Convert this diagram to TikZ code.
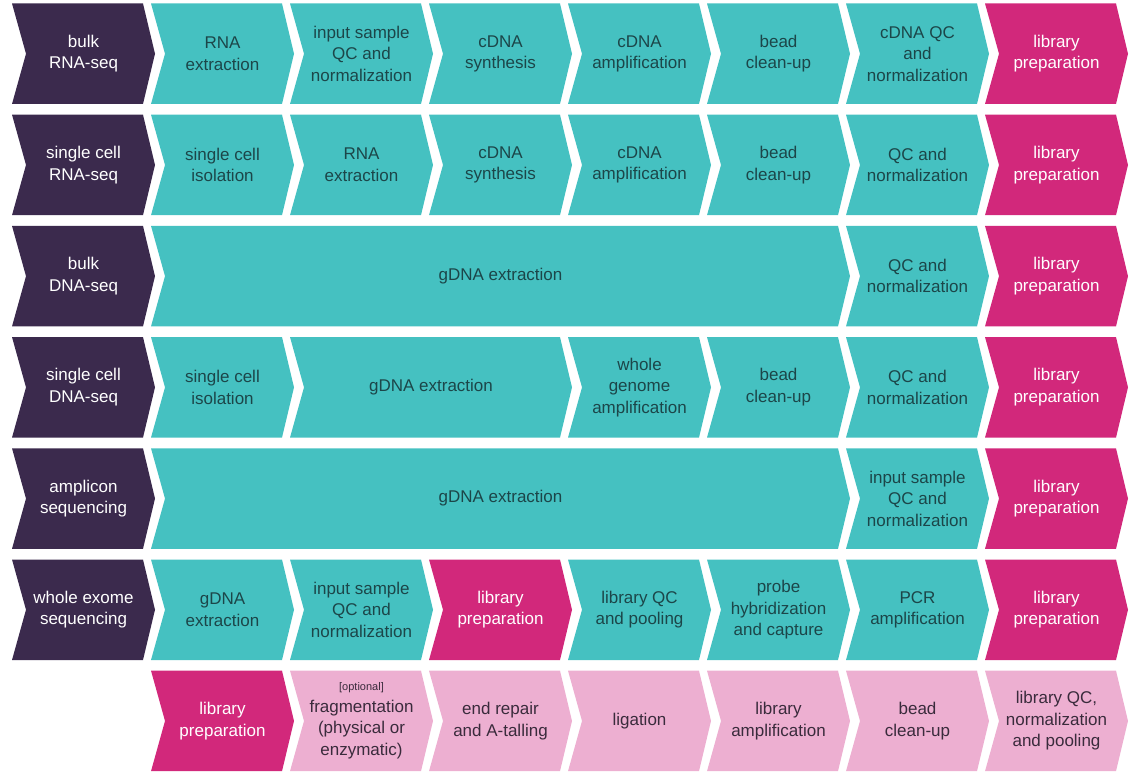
\documentclass[tikz,border=0pt]{standalone}
\usepackage{fontspec}
\setmainfont{Liberation Sans}
\definecolor{cdark}{HTML}{3B2A4D}
\definecolor{cteal}{HTML}{45C1C1}
\definecolor{cmag}{HTML}{D2287B}
\definecolor{cpink}{HTML}{EDAFD1}
\definecolor{ttealtxt}{HTML}{1C4649}
\definecolor{tpinktxt}{HTML}{3A2B3C}
\tikzset{
  base text/.style={align=center,font=\fontsize{17}{21.5}\selectfont,inner sep=0pt},
  darkfill/.style={fill=cdark},
  tealfill/.style={fill=cteal},
  magfill/.style={fill=cmag},
  pinkfill/.style={fill=cpink},
  darkfill text/.style={base text,text=white},
  tealfill text/.style={base text,text=ttealtxt},
  magfill text/.style={base text,text=white},
  pinkfill text/.style={base text,text=tpinktxt},
}
\newcommand\mychev[6]{%
  \pgfmathsetmacro\xa{12+139*#2}%
  \pgfmathsetmacro\xb{12+139*#3+131}%
  \pgfmathsetmacro\yt{3.5+111.2*#4}%
  \pgfmathsetmacro\yb{\yt+100.5}%
  \pgfmathsetmacro\ym{\yt+50.25}%
  \fill[#5] (\xa,\yt) -- (\xb,\yt) -- (\xb+12,\ym) -- (\xb,\yb) -- (\xa,\yb) -- (\xa+14,\ym) -- cycle;
  \node[#5 text] (#1) at ({(\xa+\xb)/2+6},\ym) {#6};
}
\newcommand\opt{{\fontsize{11}{13}\selectfont [optional]}}
\begin{document}
\begin{tikzpicture}[x=1pt,y=-1pt]
\useasboundingbox (0,0) rectangle (1138,778);
% row 0
\mychev{a0}{0}{0}{0}{darkfill}{bulk\\RNA-seq}
\mychev{a1}{1}{1}{0}{tealfill}{RNA\\extraction}
\mychev{a2}{2}{2}{0}{tealfill}{input sample\\QC and\\normalization}
\mychev{a3}{3}{3}{0}{tealfill}{cDNA\\synthesis}
\mychev{a4}{4}{4}{0}{tealfill}{cDNA\\amplification}
\mychev{a5}{5}{5}{0}{tealfill}{bead\\clean-up}
\mychev{a6}{6}{6}{0}{tealfill}{cDNA QC\\and\\normalization}
\mychev{a7}{7}{7}{0}{magfill}{library\\preparation}
% row 1
\mychev{b0}{0}{0}{1}{darkfill}{single cell\\RNA-seq}
\mychev{b1}{1}{1}{1}{tealfill}{single cell\\isolation}
\mychev{b2}{2}{2}{1}{tealfill}{RNA\\extraction}
\mychev{b3}{3}{3}{1}{tealfill}{cDNA\\synthesis}
\mychev{b4}{4}{4}{1}{tealfill}{cDNA\\amplification}
\mychev{b5}{5}{5}{1}{tealfill}{bead\\clean-up}
\mychev{b6}{6}{6}{1}{tealfill}{QC and\\normalization}
\mychev{b7}{7}{7}{1}{magfill}{library\\preparation}
% row 2
\mychev{c0}{0}{0}{2}{darkfill}{bulk\\DNA-seq}
\mychev{c1}{1}{5}{2}{tealfill}{gDNA extraction}
\mychev{c6}{6}{6}{2}{tealfill}{QC and\\normalization}
\mychev{c7}{7}{7}{2}{magfill}{library\\preparation}
% row 3
\mychev{d0}{0}{0}{3}{darkfill}{single cell\\DNA-seq}
\mychev{d1}{1}{1}{3}{tealfill}{single cell\\isolation}
\mychev{d2}{2}{3}{3}{tealfill}{gDNA extraction}
\mychev{d4}{4}{4}{3}{tealfill}{whole\\genome\\amplification}
\mychev{d5}{5}{5}{3}{tealfill}{bead\\clean-up}
\mychev{d6}{6}{6}{3}{tealfill}{QC and\\normalization}
\mychev{d7}{7}{7}{3}{magfill}{library\\preparation}
% row 4
\mychev{e0}{0}{0}{4}{darkfill}{amplicon\\sequencing}
\mychev{e1}{1}{5}{4}{tealfill}{gDNA extraction}
\mychev{e6}{6}{6}{4}{tealfill}{input sample\\QC and\\normalization}
\mychev{e7}{7}{7}{4}{magfill}{library\\preparation}
% row 5
\mychev{f0}{0}{0}{5}{darkfill}{whole exome\\sequencing}
\mychev{f1}{1}{1}{5}{tealfill}{gDNA\\extraction}
\mychev{f2}{2}{2}{5}{tealfill}{input sample\\QC and\\normalization}
\mychev{f3}{3}{3}{5}{magfill}{library\\preparation}
\mychev{f4}{4}{4}{5}{tealfill}{library QC\\and pooling}
\mychev{f5}{5}{5}{5}{tealfill}{probe\\hybridization\\and capture}
\mychev{f6}{6}{6}{5}{tealfill}{PCR\\amplification}
\mychev{f7}{7}{7}{5}{magfill}{library\\preparation}
% row 6
\mychev{g1}{1}{1}{6}{magfill}{library\\preparation}
\mychev{g2}{2}{2}{6}{pinkfill}{\opt\\fragmentation\\(physical or\\enzymatic)}
\mychev{g3}{3}{3}{6}{pinkfill}{end repair\\and A-talling}
\mychev{g4}{4}{4}{6}{pinkfill}{ligation}
\mychev{g5}{5}{5}{6}{pinkfill}{library\\amplification}
\mychev{g6}{6}{6}{6}{pinkfill}{bead\\clean-up}
\mychev{g7}{7}{7}{6}{pinkfill}{library QC,\\normalization\\and pooling}
\end{tikzpicture}
\end{document}
